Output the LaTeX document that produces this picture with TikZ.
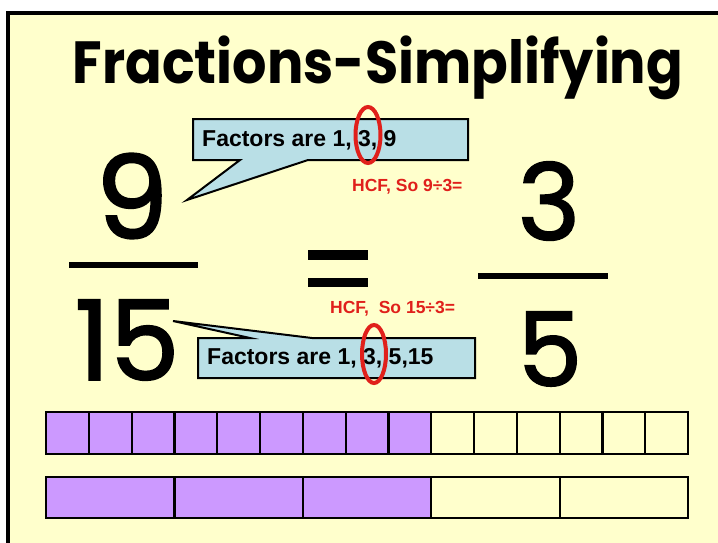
\documentclass[tikz,border=0pt]{standalone}
\usepackage{fontspec}
\usepackage{graphicx}
\setmainfont{Liberation Sans}
\newfontfamily\titlefont{Poppins}
\newfontfamily\digitfont{Poppins}[FakeBold=1.8]
\definecolor{bgyellow}{HTML}{FFFFCC}
\definecolor{calloutblue}{HTML}{B9DFE6}
\definecolor{barpurple}{HTML}{CC99FF}
\definecolor{hcfred}{HTML}{E0201B}
\tikzset{
  callout/.style={fill=calloutblue, draw=black, line width=2pt, line join=miter},
  factortext/.style={inner sep=0pt, anchor=base west, font=\fontsize{23}{26}\selectfont\bfseries},
  hcftext/.style={inner sep=0pt, anchor=base west, text=hcfred, font=\fontsize{17.5}{20}\selectfont\bfseries},
  ring/.style={draw=hcfred, line width=4pt},
  digit/.style={inner sep=0pt, font=\digitfont},
  cell/.style={draw=black, line width=2.2pt},
  solidbar/.style={fill=black, draw=none}
}
\begin{document}
\begin{tikzpicture}[x=1pt,y=-1pt]
\useasboundingbox (0,0) rectangle (718,542);
\fill[white] (0,0) rectangle (718,542);
% slide background
\fill[bgyellow] (8,13) rectangle (725,550);
\draw[black, line width=4pt] (8,550) -- (8,13) -- (725,13);
% title
\node[inner sep=0pt, anchor=center] (title) at (378,68)
  {\resizebox*{610pt}{64pt}{\titlefont\bfseries Fractions-Simplifying}};
% left fraction
\node[digit] (nine) at (132,196) {\resizebox{!}{85pt}{9}};
\fill[solidbar] (69,262) rectangle (198,268);
\node[digit] (fifteen) at (127,340) {\resizebox{!}{80pt}{15}};
% equals
\fill[solidbar] (308,250) rectangle (368,260);
\fill[solidbar] (308,278) rectangle (368,287);
% right fraction
\node[digit] (three) at (549,201) {\resizebox{!}{78pt}{3}};
\fill[solidbar] (478,273) rectangle (608,279);
\node[digit] (five) at (550,349) {\resizebox{!}{74pt}{5}};
% callout 1
\path[callout] (193,119) -- (468,119) -- (468,160) -- (308,160) -- (187,200) -- (240,160) -- (193,160) -- cycle;
\node[factortext] (fac1) at (202,146) {Factors are 1, 3, 9};
\node[hcftext] (hcf1) at (352,191) {HCF, So 9÷3=};
\draw[ring] (368,135) ellipse [x radius=12.5, y radius=28];
% callout 2
\path[callout] (198,338) -- (250,338) -- (173,321) -- (312,338) -- (475,338) -- (475,378) -- (198,378) -- cycle;
\node[factortext] (fac2) at (207,364) {Factors are 1, 3, 5,15};
\node[hcftext] (hcf2) at (330,313) {HCF,\ \ So 15÷3=};
\draw[ring] (374,354) ellipse [x radius=12, y radius=29];
% bars
\foreach \i in {0,...,14}{
  \pgfmathsetmacro{\xa}{46+\i*42.8}
  \pgfmathsetmacro{\xb}{46+(\i+1)*42.8}
  \ifnum\i<9
    \filldraw[cell, fill=barpurple] (\xa,412) rectangle (\xb,454);
  \else
    \draw[cell] (\xa,412) rectangle (\xb,454);
  \fi
}
\foreach \i in {0,...,4}{
  \pgfmathsetmacro{\xa}{46+\i*128.4}
  \pgfmathsetmacro{\xb}{46+(\i+1)*128.4}
  \ifnum\i<3
    \filldraw[cell, fill=barpurple] (\xa,477) rectangle (\xb,518);
  \else
    \draw[cell] (\xa,477) rectangle (\xb,518);
  \fi
}
\end{tikzpicture}
\end{document}
